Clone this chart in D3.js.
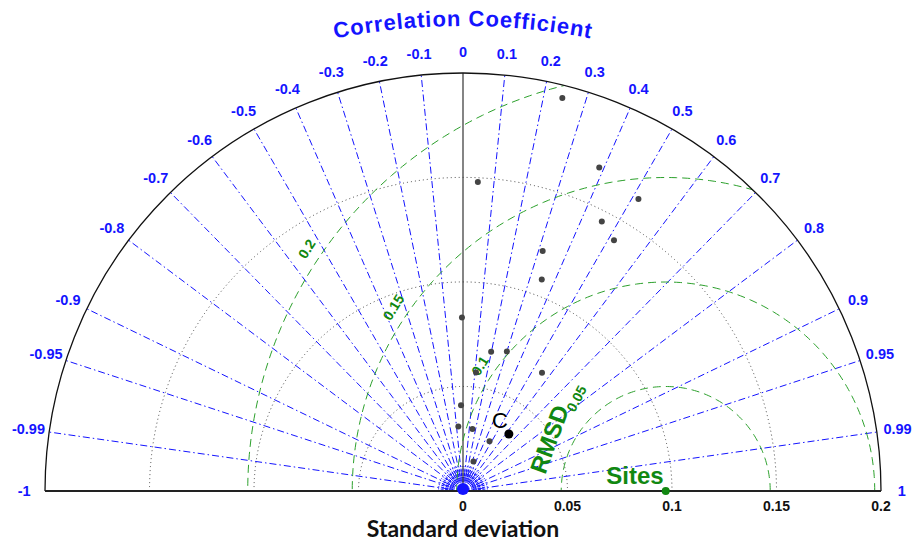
<!DOCTYPE html>
<html>
<head>
<meta charset="utf-8">
<script src="https://cdn.jsdelivr.net/npm/d3@7"></script>
<style>
  body { margin: 0; background: #fff; }
  svg { display: block; }
</style>
</head>
<body>
<script>
// correlation ticks on the outer arc
const corrTicks = [-1, -0.99, -0.95, -0.9, -0.8, -0.7, -0.6, -0.5, -0.4, -0.3, -0.2, -0.1,
                   0, 0.1, 0.2, 0.3, 0.4, 0.5, 0.6, 0.7, 0.8, 0.9, 0.95, 0.99, 1];
const stdTicks = [0, 0.05, 0.1, 0.15, 0.2];
const stdArcs = [0.05, 0.1, 0.15];
const rmsdLevels = [0.05, 0.1, 0.15, 0.2];
const refStd = 0.097;   // "Sites" reference

// grey points (std deviation, correlation)
const siteStd  = [0.194, 0.168, 0.163, 0.148, 0.145, 0.140, 0.121, 0.108, 0.083, 0.068,
                  0.070, 0.068, 0.057, 0.041, 0.031, 0.030, 0.027, 0.015];
const siteCorr = [0.245, 0.388, 0.515, 0.048, 0.458, 0.516, 0.315, 0.349, -0.006, 0.198,
                  0.300, 0.556, 0.109, -0.023, -0.072, 0.151, 0.470, 0.333];
// model C
const cStd = 0.035;
const cCorr = 0.627;

const width = 914, height = 542;
const cx = 463, cy = 491;
const maxStd = 0.2;

const r = d3.scaleLinear().domain([0, maxStd]).range([0, 418]);

function pt(s, c) {
  const th = Math.acos(c);
  return [cx + r(s) * Math.cos(th), cy - r(s) * Math.sin(th)];
}

function halfCircle(rad) {
  const p = d3.path();
  p.moveTo(cx - rad, cy);
  p.arc(cx, cy, rad, Math.PI, 2 * Math.PI);
  return p;
}

const svg = d3.select('body').append('svg')
  .attr('width', width)
  .attr('height', height);

const defs = svg.append('defs');
defs.append('clipPath')
  .attr('id', 'half')
  .append('path')
  .attr('d', () => {
    const p = halfCircle(r(maxStd));
    p.closePath();
    return p.toString();
  });

const blue = '#1414ff';
const green = '#2ca02c';
const darkGreen = '#118811';
const font = 'Liberation Sans, Arial, sans-serif';

// std deviation dotted arcs
stdArcs.forEach(s => {
  svg.append('path')
    .attr('d', halfCircle(r(s)).toString())
    .attr('fill', 'none')
    .attr('stroke', '#444')
    .attr('stroke-width', 1)
    .attr('stroke-dasharray', '1,3');
});

// correlation lines
const inner = corrTicks.filter(c => Math.abs(c) < 1 && c !== 0);
svg.selectAll('line.corr')
  .data(inner)
  .enter()
  .append('line')
  .attr('class', 'corr')
  .attr('x1', cx).attr('y1', cy)
  .attr('x2', d => pt(maxStd, d)[0])
  .attr('y2', d => pt(maxStd, d)[1])
  .attr('stroke', blue)
  .attr('stroke-width', 1)
  .attr('stroke-dasharray', '7,3,1.5,3');

// dense fan near origin
const fan = d3.range(5, 180, 5).map(a => Math.cos(a * Math.PI / 180));
svg.selectAll('line.fan')
  .data(fan)
  .enter()
  .append('line')
  .attr('class', 'fan')
  .attr('x1', d => pt(0.005, d)[0])
  .attr('y1', d => pt(0.005, d)[1])
  .attr('x2', d => pt(0.012, d)[0])
  .attr('y2', d => pt(0.012, d)[1])
  .attr('stroke', blue)
  .attr('stroke-width', 1)
  .attr('stroke-dasharray', '3,1.5');

[0.0045, 0.0065].forEach(s => {
  svg.append('path')
    .attr('d', halfCircle(r(s)).toString())
    .attr('fill', 'none')
    .attr('stroke', blue)
    .attr('stroke-width', 1);
});

// zero correlation line
svg.append('line')
  .attr('x1', cx).attr('y1', cy)
  .attr('x2', pt(maxStd, 0)[0]).attr('y2', pt(maxStd, 0)[1])
  .attr('stroke', '#333')
  .attr('stroke-width', 1.2);

// RMSD circles
const rmsdLine = d3.line();
rmsdLevels.forEach(R => {
  const pts = d3.range(0, 181, 1).map(a => {
    const t = a * Math.PI / 180;
    return [cx + r(refStd + R * Math.cos(t)), cy - r(R * Math.sin(t))];
  });
  svg.append('path')
    .attr('d', rmsdLine(pts))
    .attr('clip-path', 'url(#half)')
    .attr('fill', 'none')
    .attr('stroke', green)
    .attr('stroke-width', 1)
    .attr('stroke-dasharray', '8,5');
});

// RMSD labels
function rmsdPos(R, angDeg, off) {
  const t = Math.PI - angDeg * Math.PI / 180;
  return [cx + r(refStd) + (r(R) + off) * Math.cos(t), cy - (r(R) + off) * Math.sin(t)];
}
rmsdLevels.filter(R => R > 0.05).forEach(R => {
  const [x, y] = rmsdPos(R, 34, 15);
  svg.append('text')
    .attr('transform', `translate(${x},${y}) rotate(-58)`)
    .attr('text-anchor', 'middle')
    .attr('dominant-baseline', 'central')
    .attr('font-family', font)
    .attr('font-weight', 'bold')
    .attr('font-size', 14)
    .attr('fill', darkGreen)
    .text(R);
});
{
  const [x, y] = rmsdPos(0.05, 24, 23);
  svg.append('text')
    .attr('transform', `translate(${x},${y}) rotate(-70)`)
    .attr('text-anchor', 'middle')
    .attr('dominant-baseline', 'central')
    .attr('font-family', font)
    .attr('font-weight', 'bold')
    .attr('font-size', 24)
    .attr('fill', darkGreen)
    .text('RMSD');
  const [x2, y2] = rmsdPos(0.05, 46, 24);
  svg.append('text')
    .attr('transform', `translate(${x2},${y2}) rotate(-62)`)
    .attr('text-anchor', 'middle')
    .attr('dominant-baseline', 'central')
    .attr('font-family', font)
    .attr('font-weight', 'bold')
    .attr('font-size', 14)
    .attr('fill', darkGreen)
    .text('0.05');
}

// outer arc
svg.append('path')
  .attr('d', halfCircle(r(maxStd)).toString())
  .attr('fill', 'none')
  .attr('stroke', '#111')
  .attr('stroke-width', 1.3);

// x axis line
svg.append('line')
  .attr('x1', cx - r(maxStd)).attr('y1', cy)
  .attr('x2', cx + r(maxStd)).attr('y2', cy)
  .attr('stroke', '#222')
  .attr('stroke-width', 2);

// std tick labels
svg.selectAll('text.std')
  .data(stdTicks)
  .enter()
  .append('text')
  .attr('class', 'std')
  .attr('x', d => cx + r(d))
  .attr('y', cy + 15)
  .attr('text-anchor', 'middle')
  .attr('dominant-baseline', 'central')
  .attr('font-family', font)
  .attr('font-weight', 'bold')
  .attr('font-size', 14)
  .attr('fill', '#111')
  .text(d => d);

svg.append('text')
  .attr('x', cx)
  .attr('y', 537)
  .attr('text-anchor', 'middle')
  .attr('font-family', 'Lato, Open Sans, sans-serif')
  .attr('font-weight', 'bold')
  .attr('font-size', 23)
  .attr('fill', '#111')
  .text('Standard deviation');

// correlation tick labels
svg.selectAll('text.corr')
  .data(corrTicks)
  .enter()
  .append('text')
  .attr('class', 'corr')
  .attr('x', d => pt(0.21, d)[0])
  .attr('y', d => pt(0.21, d)[1])
  .attr('text-anchor', 'middle')
  .attr('dominant-baseline', 'central')
  .attr('font-family', font)
  .attr('font-weight', 'bold')
  .attr('font-size', 14.5)
  .attr('fill', blue)
  .text(d => d);

// curved title
{
  const R = 656, ccy = 26 + R, a = 30 * Math.PI / 180;
  defs.append('path')
    .attr('id', 'titlePath')
    .attr('d', `M${cx - R * Math.sin(a)},${ccy - R * Math.cos(a)} A${R},${R} 0 0 1 ${cx + R * Math.sin(a)},${ccy - R * Math.cos(a)}`);
  svg.append('text')
    .attr('font-family', font)
    .attr('font-weight', 'bold')
    .attr('font-size', 22)
    .attr('letter-spacing', 0.9)
    .attr('fill', blue)
    .append('textPath')
    .attr('href', '#titlePath')
    .attr('startOffset', '50%')
    .attr('text-anchor', 'middle')
    .text('Correlation Coefficient');
}

// points
svg.selectAll('circle.site')
  .data(siteStd.map((s, i) => [s, siteCorr[i]]))
  .enter()
  .append('circle')
  .attr('class', 'site')
  .attr('cx', d => pt(d[0], d[1])[0])
  .attr('cy', d => pt(d[0], d[1])[1])
  .attr('r', 3)
  .attr('fill', '#444');

// origin marker
svg.append('circle')
  .attr('cx', cx).attr('cy', cy - 2)
  .attr('r', 6)
  .attr('fill', blue);

// model C
const cp = pt(cStd, cCorr);
svg.append('circle')
  .attr('cx', cp[0]).attr('cy', cp[1])
  .attr('r', 4.5)
  .attr('fill', '#000');
svg.append('text')
  .attr('x', cp[0] - 9)
  .attr('y', cp[1] - 6)
  .attr('text-anchor', 'middle')
  .attr('font-family', font)
  .attr('font-size', 22)
  .attr('fill', '#000')
  .text('C');

// reference
const rp = pt(refStd, 1);
svg.append('circle')
  .attr('cx', rp[0]).attr('cy', rp[1])
  .attr('r', 4)
  .attr('fill', darkGreen);
svg.append('text')
  .attr('x', rp[0] - 2)
  .attr('y', rp[1] - 7)
  .attr('text-anchor', 'end')
  .attr('font-family', font)
  .attr('font-weight', 'bold')
  .attr('font-size', 24)
  .attr('fill', darkGreen)
  .text('Sites');
</script>
</body>
</html>
